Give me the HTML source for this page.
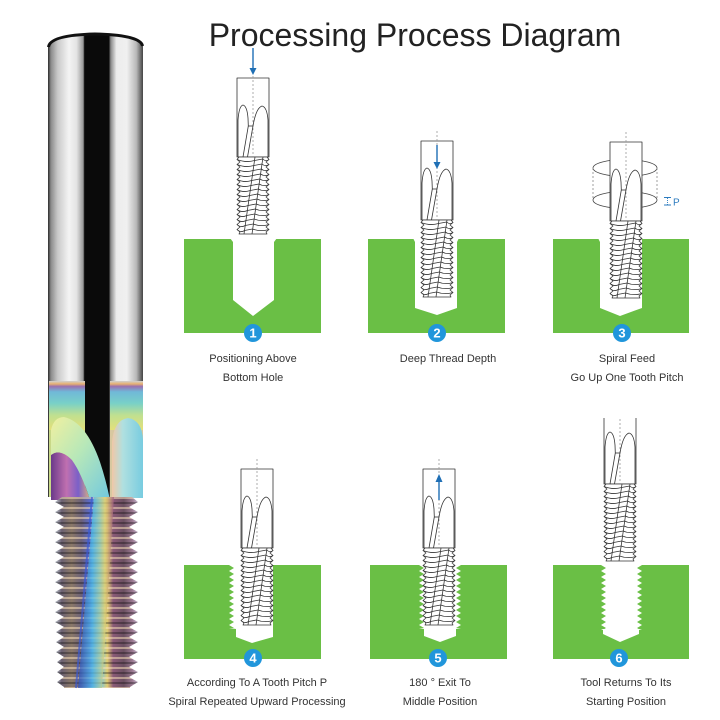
<!DOCTYPE html>
<html><head><meta charset="utf-8"><style>
html,body{margin:0;padding:0;background:#fff;}
svg{display:block;}
text{font-family:"Liberation Sans",Arial,sans-serif;}
</style></head><body>
<svg width="720" height="720" viewBox="0 0 720 720" xmlns="http://www.w3.org/2000/svg">
<defs>
  <linearGradient id="shank" gradientUnits="userSpaceOnUse" x1="48" y1="0" x2="143" y2="0">
    <stop offset="0" stop-color="#2a2a2a"/>
    <stop offset="0.03" stop-color="#8a8a8a"/>
    <stop offset="0.1" stop-color="#c8c8c8"/>
    <stop offset="0.22" stop-color="#f4f4f4"/>
    <stop offset="0.3" stop-color="#e4e4e4"/>
    <stop offset="0.37" stop-color="#9a9a9a"/>
    <stop offset="0.385" stop-color="#0a0a0a"/>
    <stop offset="0.64" stop-color="#0a0a0a"/>
    <stop offset="0.66" stop-color="#888"/>
    <stop offset="0.72" stop-color="#ececec"/>
    <stop offset="0.83" stop-color="#f0f0f0"/>
    <stop offset="0.93" stop-color="#b8b8b8"/>
    <stop offset="1" stop-color="#444"/>
  </linearGradient>
  <linearGradient id="band" gradientUnits="userSpaceOnUse" x1="0" y1="381" x2="0" y2="430">
    <stop offset="0" stop-color="#d0d0d0"/>
    <stop offset="0.06" stop-color="#e8b070"/>
    <stop offset="0.11" stop-color="#9a70b0"/>
    <stop offset="0.22" stop-color="#70b8d8"/>
    <stop offset="0.45" stop-color="#78d0c8"/>
    <stop offset="0.7" stop-color="#c0e090"/>
    <stop offset="1" stop-color="#e4e07a"/>
  </linearGradient>
  <linearGradient id="leafL" x1="0" y1="0" x2="1" y2="1">
    <stop offset="0" stop-color="#f0f0a0"/>
    <stop offset="0.45" stop-color="#b8e8b8"/>
    <stop offset="1" stop-color="#70c8e0"/>
  </linearGradient>
  <linearGradient id="purp" x1="0" y1="0" x2="1" y2="0">
    <stop offset="0" stop-color="#6a3a8a"/>
    <stop offset="0.4" stop-color="#c070b0"/>
    <stop offset="0.7" stop-color="#7a60c8"/>
    <stop offset="1" stop-color="#d8b080"/>
  </linearGradient>
  <linearGradient id="leafR" x1="0" y1="0" x2="1" y2="0">
    <stop offset="0" stop-color="#f0c8a8"/>
    <stop offset="0.35" stop-color="#b0e0e0"/>
    <stop offset="1" stop-color="#78cce0"/>
  </linearGradient>
  <linearGradient id="thr" gradientUnits="userSpaceOnUse" x1="55" y1="0" x2="138" y2="0">
    <stop offset="0" stop-color="#c0c8d0"/>
    <stop offset="0.08" stop-color="#6a6070"/>
    <stop offset="0.2" stop-color="#8a7868"/>
    <stop offset="0.32" stop-color="#6a6078"/>
    <stop offset="0.42" stop-color="#5a6ac8"/>
    <stop offset="0.54" stop-color="#70c4e8"/>
    <stop offset="0.63" stop-color="#e0cc70"/>
    <stop offset="0.7" stop-color="#8a5a78"/>
    <stop offset="0.83" stop-color="#6a5060"/>
    <stop offset="0.93" stop-color="#9a7890"/>
    <stop offset="1" stop-color="#c8b8d0"/>
  </linearGradient>
  <linearGradient id="fband" x1="0" y1="0" x2="1" y2="0">
    <stop offset="0" stop-color="#3050c0"/>
    <stop offset="0.4" stop-color="#50c0e8"/>
    <stop offset="0.75" stop-color="#e0d070"/>
    <stop offset="1" stop-color="#a06080"/>
  </linearGradient>
  <pattern id="stripes" patternUnits="userSpaceOnUse" x="0" y="497" width="200" height="10">
    <rect x="0" y="0" width="200" height="2" fill="rgba(255,230,190,0.5)"/>
    <rect x="0" y="5" width="200" height="2" fill="rgba(0,0,0,0.3)"/>
  </pattern>
  <pattern id="tl" patternUnits="userSpaceOnUse" x="0" y="0" width="5" height="6">
    <polygon points="0,0 5,3 0,6" fill="#6abf45"/>
  </pattern>
  <pattern id="tr" patternUnits="userSpaceOnUse" x="0" y="0" width="5" height="6">
    <polygon points="5,0 0,3 5,6" fill="#6abf45"/>
  </pattern>
  <clipPath id="clip6"><rect x="590" y="418" width="60" height="160"/></clipPath>

  <g id="tool" stroke="#333" stroke-width="0.8" fill="none" stroke-linejoin="round">
    <rect x="0" y="0" width="32" height="79" fill="#fff"/>
    <polygon fill="#fff" points="2,79 0,81.5 3,84 0,86.5 3,89 0,91.5 3,94 0,96.5 3,99 0,101.5 3,104 0,106.5 3,109 0,111.5 3,114 0,116.5 3,119 0,121.5 3,124 0,126.5 3,129 0,131.5 3,134 0,136.5 3,139 0,141.5 3,144 0,146.5 3,149 0,151.5 3,154 2,156 30,156 29,154 32,151.5 29,149 32,146.5 29,144 32,141.5 29,139 32,136.5 29,134 32,131.5 29,129 32,126.5 29,124 32,121.5 29,119 32,116.5 29,114 32,111.5 29,109 32,106.5 29,104 32,101.5 29,99 32,96.5 29,94 32,91.5 29,89 32,86.5 29,84 32,81.5 30,79"/>
    <path d="M16,-10 L16,79" stroke="#9a9a9a" stroke-dasharray="2,2"/>
    <path d="M1,79 L1,42 Q2,28 6,27 Q10,28 11,40 L11.3,48 L6,79"/>
    <path d="M31,79 L31,42 Q30,29 25,28 Q19,30 16,48 L10.5,79"/>
    <path d="M11.3,48 L16,48"/>
    <path d="M18,79 L7,156 M26,79 L15,156"/>
    <path d="M0,81.5Q9,85 17.6,82.5 M0,86.5Q8.5,90 16.9,87.5 M0,91.5Q8,95 16.2,92.5 M0,96.5Q8,100 15.5,97.5 M0,101.5Q7.5,105 14.7,102.5 M0,106.5Q7,110 14,107.5 M0,111.5Q6.5,115 13.3,112.5 M0,116.5Q6.5,120 12.6,117.5 M0,121.5Q6,125 11.9,122.5 M0,126.5Q5.5,130 11.1,127.5 M0,131.5Q5,135 10.4,132.5 M0,136.5Q5,140 9.7,137.5 M0,141.5Q4.5,145 9,142.5 M0,146.5Q4,150 8.2,147.5 M0,151.5Q4,155 7.5,152.5"/>
    <path d="M17.6,82.5L25.6,81 M16.9,87.5L24.9,86 M16.2,92.5L24.2,91 M15.5,97.5L23.5,96 M14.7,102.5L22.7,101 M14,107.5L22,106 M13.3,112.5L21.3,111 M12.6,117.5L20.6,116 M11.9,122.5L19.9,121 M11.1,127.5L19.1,126 M10.4,132.5L18.4,131 M9.7,137.5L17.7,136 M9,142.5L17,141 M8.2,147.5L16.2,146 M7.5,152.5L15.5,151"/>
    <path d="M25.6,81Q29,84 32,81.5 M24.9,86Q28.5,89 32,86.5 M24.2,91Q28,94 32,91.5 M23.5,96Q28,99 32,96.5 M22.7,101Q27.5,104 32,101.5 M22,106Q27,109 32,106.5 M21.3,111Q26.5,114 32,111.5 M20.6,116Q26,119 32,116.5 M19.9,121Q26,124 32,121.5 M19.1,126Q25.5,129 32,126.5 M18.4,131Q25,134 32,131.5 M17.7,136Q25,139 32,136.5 M17,141Q24.5,144 32,141.5 M16.2,146Q24,149 32,146.5 M15.5,151Q23.5,154 32,151.5"/>
  </g>
</defs>

<rect x="0" y="0" width="720" height="720" fill="#fff"/>

<!-- Title -->
<text x="415" y="46" font-size="32" fill="#222" text-anchor="middle">Processing Process Diagram</text>

<!-- ===== Left rainbow tool ===== -->
<path d="M48,497 L48,46 Q50,34 95,33 Q141,34 143,46 L143,497 Z" fill="url(#shank)"/>
<path d="M48.5,47 Q50,35 95,34 Q141,35 142.5,46" fill="none" stroke="#111" stroke-width="3"/>
<rect x="49" y="381" width="36" height="50" fill="url(#band)"/>
<rect x="110" y="381" width="33" height="50" fill="url(#band)"/>
<rect x="49" y="430" width="36" height="67" fill="#c8d888"/>
<rect x="110" y="430" width="33" height="67" fill="#d8c8a0"/>
<path d="M51,455 Q60,448 72,460 Q82,474 90,500 L51,500 Z" fill="url(#purp)"/>
<path d="M51,430 Q54,417 64,417 Q86,422 100,462 Q106,480 110,500 L90,500 Q82,474 72,460 Q60,448 51,455 Z" fill="url(#leafL)"/>
<path d="M112,498 L112,442 Q114,420 128,418 Q142,420 143,440 L143,498 Z" fill="url(#leafR)"/>
<polygon fill="url(#thr)" points="62,497 55,502 64,507 55,512 64,517 55,522 64,527 55,532 64,537 55,542 64,547 55,552 64,557 55,562 64,567 55,572 64,577 55,582 64,587 55,592 64,597 55,602 64,607 55,612 64,617 55,622 64,627 56,632 64,637 56,642 64,647 56,652 64,657 57,662 64,667 57,672 64,677 57,682 64,687 64,688 130,688 130,687 138,682 129,677 138,672 129,667 138,662 129,657 138,652 129,647 138,642 129,637 138,632 129,627 138,622 129,617 138,612 129,607 138,602 129,597 138,592 129,587 138,582 129,577 138,572 129,567 138,562 129,557 138,552 129,547 138,542 129,537 138,532 129,527 138,522 129,517 138,512 129,507 138,502 132,497"/>
<polygon fill="url(#stripes)" points="62,497 55,502 64,507 55,512 64,517 55,522 64,527 55,532 64,537 55,542 64,547 55,552 64,557 55,562 64,567 55,572 64,577 55,582 64,587 55,592 64,597 55,602 64,607 55,612 64,617 55,622 64,627 56,632 64,637 56,642 64,647 56,652 64,657 57,662 64,667 57,672 64,677 57,682 64,687 64,688 130,688 130,687 138,682 129,677 138,672 129,667 138,662 129,657 138,652 129,647 138,642 129,637 138,632 129,627 138,622 129,617 138,612 129,607 138,602 129,597 138,592 129,587 138,582 129,577 138,572 129,567 138,562 129,557 138,552 129,547 138,542 129,537 138,532 129,527 138,522 129,517 138,512 129,507 138,502 132,497"/>
<polygon points="94,497 114,497 102,688 78,688" fill="url(#fband)" opacity="0.75"/>
<path d="M92,497 L76,688" stroke="#3a5ad0" stroke-width="2" opacity="0.7"/>

<!-- ===== Row 1 ===== -->
<rect x="184" y="239" width="137" height="94" fill="#6abf45"/>
<polygon points="230,238 277,238 274,242 274,300 253,316 233,300 233,242" fill="#fff"/>
<use href="#tool" transform="translate(237,78)"/>
<path d="M253,48 L253,70" stroke="#1f6fb5" stroke-width="1.4"/>
<polygon points="249.5,68 256.5,68 253,75" fill="#1f6fb5"/>

<rect x="368" y="239" width="137" height="94" fill="#6abf45"/>
<polygon points="413,238 459,238 457,242 457,308 437,315 415,308 415,242" fill="#fff"/>
<use href="#tool" transform="translate(421,141)"/>
<path d="M437,145 L437,163" stroke="#1f6fb5" stroke-width="1.4"/>
<polygon points="433.5,162 440.5,162 437,169" fill="#1f6fb5"/>

<rect x="553" y="239" width="136" height="94" fill="#6abf45"/>
<polygon points="598,238 643,238 642,239 642,308 620,316 600,308 600,242" fill="#fff"/>
<g fill="none" stroke="#444" stroke-width="0.8">
  <ellipse cx="625" cy="168" rx="32" ry="8.5"/>
  <ellipse cx="625" cy="200" rx="32" ry="8.5"/>
  <path d="M593,168 L593,200 M657,168 L657,200" stroke="#888" stroke-dasharray="2,2"/>
</g>
<use href="#tool" transform="translate(610,142)"/>
<g stroke="#2b7bbf" stroke-width="0.9">
  <path d="M664,197.5 L671,197.5 M664,205 L671,205"/>
  <path d="M667.5,198 L667.5,205" stroke-dasharray="1,1"/>
</g>
<text x="673" y="205.5" font-size="10" fill="#2b7bbf">P</text>

<!-- ===== Row 2 ===== -->
<rect x="184" y="565" width="137" height="94" fill="#6abf45"/>
<polygon points="229,564 273,564 273,637 252,643 236,637 236,629 229,628" fill="#fff"/>
<g transform="translate(229,565)"><rect x="0" y="0" width="5" height="63" fill="url(#tl)"/></g>
<use href="#tool" transform="translate(241,469)"/>

<rect x="370" y="565" width="137" height="94" fill="#6abf45"/>
<polygon points="419,564 461,564 461,628 456,629 456,636 440,642 424,636 424,629 419,628" fill="#fff"/>
<g transform="translate(419,565)"><rect x="0" y="0" width="5" height="63" fill="url(#tl)"/></g>
<g transform="translate(456,565)"><rect x="0" y="0" width="5" height="63" fill="url(#tr)"/></g>
<use href="#tool" transform="translate(423,469)"/>
<path d="M439,500 L439,481" stroke="#1f6fb5" stroke-width="1.4"/>
<polygon points="435.5,482 442.5,482 439,474" fill="#1f6fb5"/>

<rect x="553" y="565" width="136" height="94" fill="#6abf45"/>
<polygon points="601,564 642,564 642,629 639,630 639,634 620,642 603,634 603,630 601,629" fill="#fff"/>
<g transform="translate(601,565)"><rect x="0" y="0" width="5" height="64" fill="url(#tl)"/></g>
<g transform="translate(637,565)"><rect x="0" y="0" width="5" height="64" fill="url(#tr)"/></g>
<g clip-path="url(#clip6)"><use href="#tool" transform="translate(604,405)"/></g>

<!-- Badges -->
<g font-size="13" font-weight="bold" fill="#fff" text-anchor="middle">
  <circle cx="253" cy="333" r="9" fill="#2196db"/><text x="253" y="337.5">1</text>
  <circle cx="437" cy="333" r="9" fill="#2196db"/><text x="437" y="337.5">2</text>
  <circle cx="622" cy="333" r="9" fill="#2196db"/><text x="622" y="337.5">3</text>
  <circle cx="253" cy="658" r="9" fill="#2196db"/><text x="253" y="662.5">4</text>
  <circle cx="438" cy="658" r="9" fill="#2196db"/><text x="438" y="662.5">5</text>
  <circle cx="619" cy="658" r="9" fill="#2196db"/><text x="619" y="662.5">6</text>
</g>

<!-- Captions -->
<g font-size="11" fill="#333" text-anchor="middle">
  <text x="253" y="362">Positioning Above</text>
  <text x="253" y="381">Bottom Hole</text>
  <text x="448" y="362">Deep Thread Depth</text>
  <text x="627" y="362">Spiral Feed</text>
  <text x="627" y="381">Go Up One Tooth Pitch</text>
  <text x="257" y="686">According To A Tooth Pitch P</text>
  <text x="257" y="705">Spiral Repeated Upward Processing</text>
  <text x="440" y="686">180 ° Exit To</text>
  <text x="440" y="705">Middle Position</text>
  <text x="626" y="686">Tool Returns To Its</text>
  <text x="626" y="705">Starting Position</text>
</g>
</svg>
</body></html>
